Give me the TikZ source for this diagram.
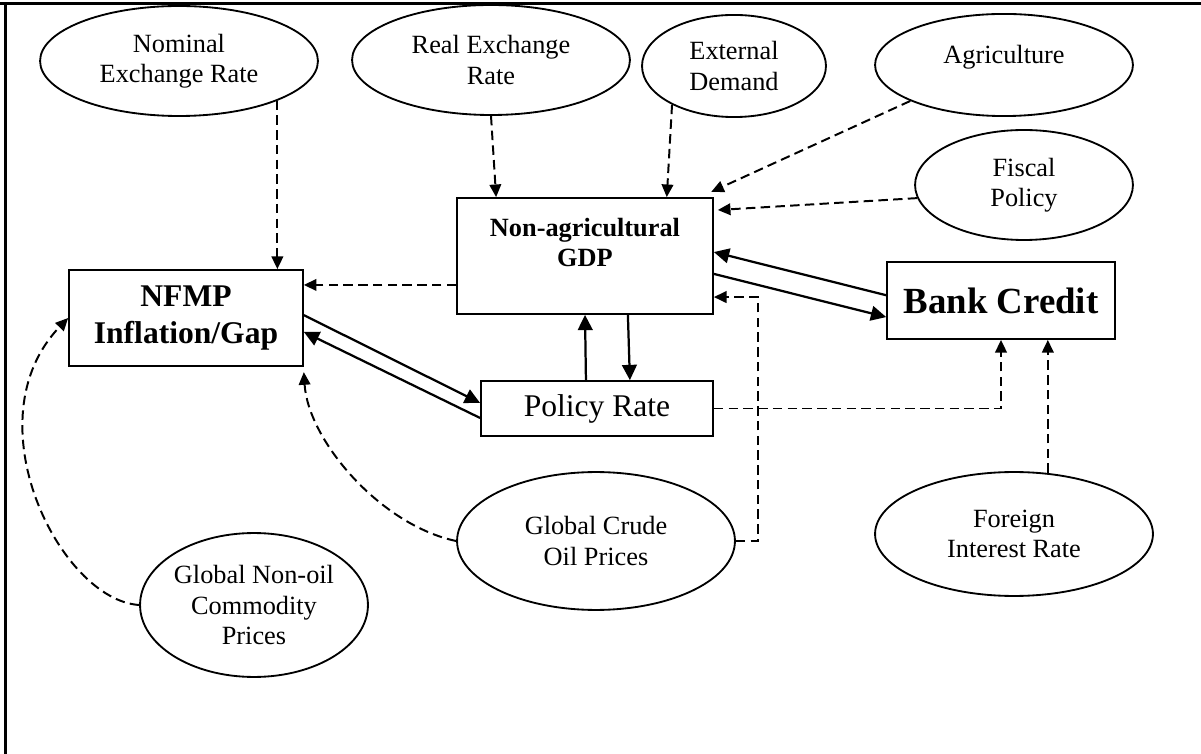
\documentclass[tikz,border=0pt]{standalone}
\usepackage{fontspec}
\setmainfont{Liberation Serif}
\usetikzlibrary{arrows.meta,shapes.geometric}

\begin{document}
\begin{tikzpicture}[x=0.38pt,y=-0.38pt,
        elip/.style={draw,ellipse,line width=0.7pt,inner sep=0pt,align=center,font=\fontsize{10}{11.5}\selectfont},
        caja/.style={draw,rectangle,line width=0.65pt,inner sep=0pt,align=center},
        discont/.style={line width=0.75pt,dash pattern=on 3.6pt off 2pt,-{Triangle[length=4.8pt,width=4.4pt]}},
        solida/.style={line width=0.85pt,-{Triangle[length=5.8pt,width=5.6pt]}}]
        \useasboundingbox (0,0) rectangle (1201,754);

        % marco
        \draw[line width=1pt] (0,3.5) -- (1201,3.5);
        \draw[line width=1pt] (5.5,3.5) -- (5.5,754);

        % elipses de arriba
        \node[elip,minimum width=105.6pt,minimum height=41.8pt] (nominal) at (179,61) {Nominal\\Exchange Rate};
        \node[elip,minimum width=105.6pt,minimum height=41.8pt] (real) at (491,60) {Real Exchange\\Rate};
        \node[elip,minimum width=69.9pt,minimum height=38.8pt] (external) at (734,66) {External\\Demand};
        \node[elip,minimum width=98pt,minimum height=38.8pt,text depth=8pt] (agri) at (1004,65) {Agriculture};
        \node[elip,minimum width=82.8pt,minimum height=41.8pt] (fiscal) at (1024,185) {Fiscal\\Policy};

        % cajas
        \node[caja,minimum width=88.9pt,minimum height=36.5pt,font=\fontsize{12}{13.8}\selectfont\bfseries] (nfmp) at (186,318) {NFMP\\Inflation/Gap};
        \node[caja,minimum width=97.3pt,minimum height=44.1pt,text depth=10.6pt,font=\fontsize{10}{11.4}\selectfont\bfseries] (gdp) at (585,256) {Non-agricultural\\GDP};
        \node[caja,minimum width=86.6pt,minimum height=29.3pt,font=\fontsize{14}{16}\selectfont\bfseries] (bank) at (1001,300.5) {Bank Credit};
        \node[caja,minimum width=88.2pt,minimum height=20.9pt,font=\fontsize{12}{13.8}\selectfont] (policy) at (597,408.5) {Policy Rate};

        % elipses de abajo
        \node[elip,minimum width=105.6pt,minimum height=52.4pt] (crude) at (596,541) {Global Crude\\Oil Prices};
        \node[elip,minimum width=86.6pt,minimum height=54.7pt] (nonoil) at (254,605) {Global Non-oil\\Commodity\\Prices};
        \node[elip,minimum width=105.6pt,minimum height=47.1pt] (foreign) at (1014,534) {Foreign\\Interest Rate};

        % flechas discontinuas
        \draw[discont] (nominal.-22) -- (nominal.-22 |- nfmp.north);
        \draw[discont] (real.south) -- ([xshift=15.2pt]gdp.north west);
        \draw[discont] (external.212) -- ([xshift=-17.9pt]gdp.north east);
        \draw[discont] (agri.201) -- ([shift={(-1pt,2pt)}]gdp.north east);
        \draw[discont] (fiscal.187) -- ([shift={(1.5pt,-4.9pt)}]gdp.north east);
        \draw[discont] ([yshift=-11pt]gdp.west) -- ([yshift=-11pt]gdp.west -| nfmp.east);
        \draw[discont] (policy.east) -- (policy.east -| bank.south) -- (bank.south);
        \draw[discont] (foreign.61) -- (foreign.61 |- bank.south);
        \draw[discont] (crude.east) -- ++(22,0) |- ([yshift=-15.6pt]gdp.east);
        \draw[discont] (crude.west) .. controls (380,525) and (308,440) .. ([yshift=-2pt]nfmp.south east);
        \draw[discont] (nonoil.west) .. controls (60,600) and (-30,420) .. (nfmp.west);

        % flechas continuas
        \draw[solida] ([yshift=2pt]bank.west) -- ([yshift=1.5pt]gdp.east);
        \draw[solida] ([yshift=-6.8pt]gdp.east) -- ([yshift=-6.3pt]bank.west);
        \draw[solida] ([xshift=-4.2pt]policy.north) -- (gdp.south);
        \draw[solida] ([xshift=16.3pt]gdp.south) -- ([xshift=12.5pt]policy.north);
        \draw[solida] ([yshift=1.1pt]nfmp.east) -- ([yshift=2.1pt]policy.west);
        \draw[solida] ([yshift=-3.6pt]policy.west) -- ([yshift=-5.3pt]nfmp.east);
\end{tikzpicture}
\end{document}
